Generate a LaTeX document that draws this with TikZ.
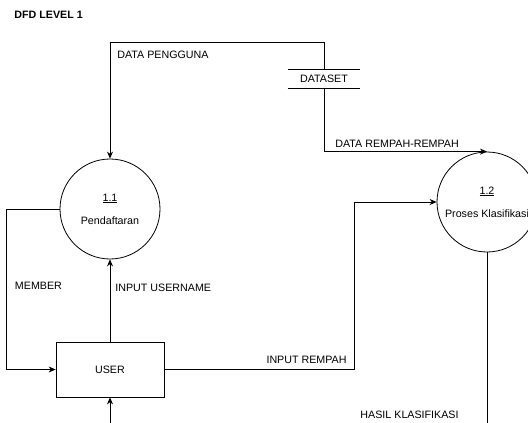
\documentclass[tikz,border=0pt]{standalone}
\usepackage{fontspec}
\setmainfont{Liberation Sans}
\usetikzlibrary{arrows.meta}
\tikzstyle{process}=[circle,draw,minimum size=100pt,inner sep=0pt,align=center]
\tikzstyle{entity}=[rectangle,draw,minimum width=108pt,minimum height=55pt,inner sep=0pt]
\tikzstyle{store}=[rectangle,minimum width=72pt,minimum height=18pt,inner sep=0pt]
\tikzstyle{flow}=[inner sep=1pt]

\begin{document}
\begin{tikzpicture}[x=1pt,y=-1pt,line width=0.8pt,>={Stealth[length=7pt,width=6pt]},font=\fontsize{10.7}{12.8}\selectfont]
\fill[white] (0, 0) rectangle (528, 423);
\useasboundingbox (0, 0) rectangle (528, 423);
\clip (0, 0) rectangle (528, 423);
\node[anchor = west, inner sep = 0pt, font = \fontsize{10.7}{12.8}\selectfont\bfseries] at (14, 15) (title) {DFD LEVEL 1};
\node[process] at (110, 209) (p11) {\underline{1.1}\\[10pt]Pendaftaran};
\node[process] at (487, 202) (p12) {\underline{1.2}\\[10pt]Proses Klasifikasi};
\node[entity] at (110, 369.5) (user) {USER};
\node[store] at (324, 79) (ds) {DATASET};
\draw (ds.north west) -- (ds.north east);
\draw (ds.south west) -- (ds.south east);
\coordinate (rBend) at (354, 369.5);
\coordinate (userIn) at (110, 423);
\coordinate (hasilOut) at (487, 423);
\draw[->] (ds.north) -- ++(0, -27) -| node[flow, pos = 0.5, anchor = north west, xshift = 6pt, yshift = -7pt] (lblPengguna) {DATA PENGGUNA} (p11.north);
\draw[->] (ds.south) |- node[flow, pos = 0.5, anchor = south west, xshift = 10pt, yshift = 3pt] (lblRempah) {DATA REMPAH-REMPAH} (p12.north);
\draw[->] (p11.west) -- ++(-53, 0) |- node[flow, pos = 0.24, anchor = west, xshift = 7pt] (lblMember) {MEMBER} (user.west);
\draw[->] (user) edge node[flow, pos = 0.66, anchor = west, xshift = 4pt] (lblUsername) {INPUT USERNAME} (p11);
\draw[->] (user.east) -- node[flow, pos = 1, anchor = south east, xshift = -6pt, yshift = 4pt] (lblInput) {INPUT REMPAH} (rBend) |- (p12.west);
\draw[->] (userIn) -- (user.south);
\draw (p12.south) -- node[flow, pos = 0.95, anchor = east, xshift = -27pt] (lblHasil) {HASIL KLASIFIKASI} (hasilOut);
\end{tikzpicture}
\end{document}
